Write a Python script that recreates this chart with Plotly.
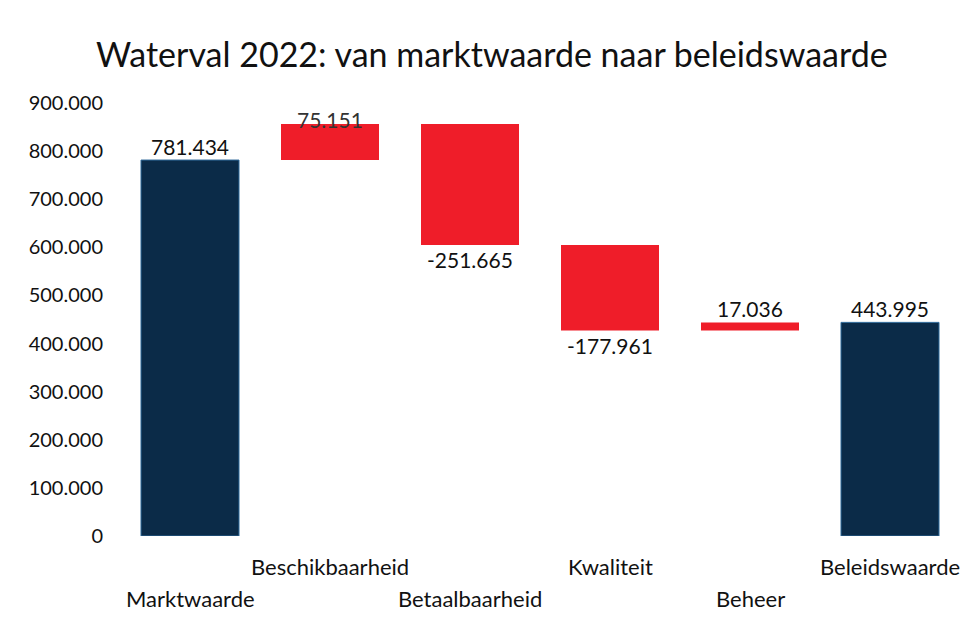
import plotly.graph_objects as go

categories = ["Marktwaarde", "Beschikbaarheid", "Betaalbaarheid", "Kwaliteit", "Beheer", "Beleidswaarde"]
values = [781434, 75151, -251665, -177961, 17036, 443995]
measures = ["absolute", "relative", "relative", "relative", "relative", "total"]
tick_vals = [0, 100000, 200000, 300000, 400000, 500000, 600000, 700000, 800000, 900000]

NAVY = "#0b2b48"
RED = "#ef1d29"
FONT = "Lato"


def fmt(v):
    return f"{v:,}".replace(",", ".")


fig = go.Figure(go.Waterfall(
    x=categories,
    y=values,
    measure=measures,
    increasing=dict(marker=dict(color=RED)),
    decreasing=dict(marker=dict(color=RED)),
    totals=dict(marker=dict(color=NAVY, line=dict(color="#2f6a9a", width=1))),
    connector=dict(visible=False),
    textinfo="none",
    hoverinfo="skip",
))

annotations = []
running = 0
for i, (cat, v, m) in enumerate(zip(categories, values, measures)):
    if m == "absolute":
        start, end = 0, v
        running = v
    elif m == "relative":
        start, end = running, running + v
        running = end
    else:
        start, end = 0, running
    if v >= 0:
        if i == 1:
            annotations.append(dict(x=cat, y=end, xref="x", yref="y", text=fmt(v), showarrow=False,
                                    yanchor="middle", yshift=4, font=dict(size=21, color="#333", family=FONT)))
        else:
            annotations.append(dict(x=cat, y=end, xref="x", yref="y", text=fmt(v), showarrow=False,
                                    yanchor="bottom", yshift=-1, font=dict(size=21, color="#111", family=FONT)))
    else:
        annotations.append(dict(x=cat, y=end, xref="x", yref="y", text=fmt(v), showarrow=False,
                                yanchor="top", yshift=0, font=dict(size=21, color="#111", family=FONT)))
    # staggered category labels
    annotations.append(dict(x=cat, y=0, xref="x", yref="paper", text=cat, showarrow=False,
                            yanchor="middle", yshift=(-30 if i % 2 == 1 else -62),
                            font=dict(size=22, color="#111", family=FONT)))

fig.update_layout(
    width=972, height=618,
    margin=dict(l=120, r=10, t=103, b=82),
    paper_bgcolor="white", plot_bgcolor="white",
    separators=",.",
    waterfallgap=0.3,
    showlegend=False,
    title=dict(text="Waterval 2022: van marktwaarde naar beleidswaarde",
               x=0.506, xref="container", xanchor="center",
               y=1 - 55 / 618, yref="container", yanchor="middle",
               font=dict(size=34, color="#111", family=FONT)),
    xaxis=dict(showticklabels=False, showgrid=False, zeroline=False, showline=False, ticks=""),
    yaxis=dict(range=[0, 900000], tickvals=tick_vals, tickformat=",d",
               showgrid=False, zeroline=False, showline=False, ticks="",
               ticklabelstandoff=16,
               tickfont=dict(size=20, color="#111", family=FONT)),
    annotations=annotations,
)

fig.write_html("out.html")
